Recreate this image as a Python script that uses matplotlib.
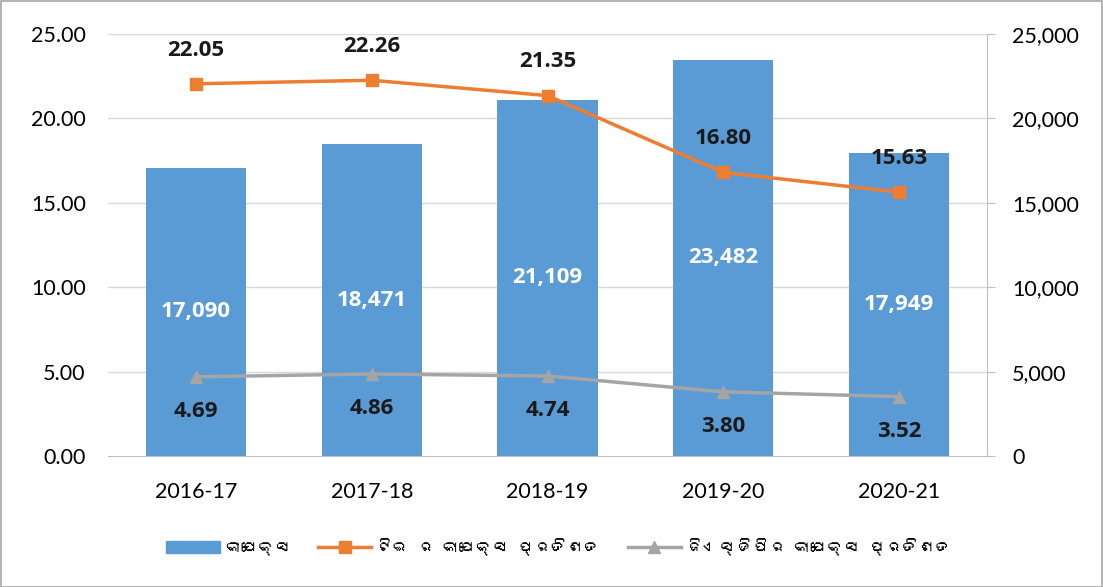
import matplotlib
matplotlib.use("Agg")
import matplotlib.pyplot as plt
from matplotlib import font_manager as fm
from matplotlib.patches import Rectangle, Patch
from matplotlib.lines import Line2D

years = ["2016-17", "2017-18", "2018-19", "2019-20", "2020-21"]
capex = [17090, 18471, 21109, 23482, 17949]
te_pct = [22.05, 22.26, 21.35, 16.80, 15.63]
gsdp_pct = [4.69, 4.86, 4.74, 3.80, 3.52]
legend_labels = ["କାପେକ୍ସ", "ଟିଇ ର କାପେକ୍ସ ପ୍ରତିଶତ", "ଜିଏସ୍ଡିପିର କାପେକ୍ସ ପ୍ରତିଶତ"]

# find a font with Odia glyphs if any
odia_fams = []
try:
    from matplotlib.ft2font import FT2Font
    seen = set()
    for f in fm.fontManager.ttflist:
        if f.name in seen:
            continue
        try:
            ft = FT2Font(f.fname)
            if 0x0B15 in ft.get_charmap():
                odia_fams.append(f.name)
                seen.add(f.name)
        except Exception:
            pass
except Exception:
    pass

base = "Lato"
plt.rcParams['font.family'] = [base, 'DejaVu Sans']
leg_family = odia_fams[:1] + [base, 'DejaVu Sans']
lab_family = ["Open Sans", "DejaVu Sans"]

W, H = 1103, 587
fig = plt.figure(figsize=(W/100, H/100), dpi=100)
fig.patches.append(Rectangle((0.5/W, 0.5/H), 1-1.5/W, 1-1.5/H, transform=fig.transFigure,
                             fill=False, edgecolor="#a6a6a6", lw=1.2))

ax = fig.add_axes([108/W, 1-456/H, (987-108)/W, (456-34)/H])
ax2 = ax.twinx()
ax.set_zorder(ax2.get_zorder() + 1)
ax.patch.set_visible(False)

x = list(range(len(years)))
bar_c = "#5b9bd5"
ax2.bar(x, capex, width=0.57, color=bar_c, zorder=2)
ax2.set_ylim(0, 25000)
ax2.set_yticks(range(0, 25001, 5000))
ax2.set_yticklabels([f"{v:,}" for v in range(0, 25001, 5000)])

ax.set_ylim(0, 25)
ax.set_xlim(-0.5, 4.5)
ax.set_yticks([0, 5, 10, 15, 20, 25])
ax.set_yticklabels([f"{v:.2f}" for v in [0, 5, 10, 15, 20, 25]])
ax.set_xticks(x)
ax.set_xticklabels(years)

for v in range(5000, 25001, 5000):
    ax2.axhline(v, color="#d9d9d9", lw=1, zorder=0)

ax.plot(x, te_pct, color="#ed7d31", lw=2.5, marker="s", ms=9, zorder=3)
ax.plot(x, gsdp_pct, color="#a5a5a5", lw=2.5, marker="^", ms=9, zorder=3)

for i in x:
    ax2.text(i, capex[i]/2, f"{capex[i]:,}", ha="center", va="center",
             color="white", fontsize=16, fontweight="bold", family=lab_family, zorder=4)
    ax.text(i, te_pct[i] + 2.0, f"{te_pct[i]:.2f}", ha="center",
            va="center", color="#1a1a1a", fontsize=16, fontweight="bold", family=lab_family, zorder=5)
    ax.text(i, gsdp_pct[i] - 2.07, f"{gsdp_pct[i]:.2f}", ha="center", va="center",
            color="#1a1a1a", fontsize=16, fontweight="bold", family=lab_family, zorder=5)

for a in (ax, ax2):
    for s in a.spines.values():
        s.set_visible(False)
ax.spines["bottom"].set_visible(True)
ax.spines["bottom"].set_color("#bfbfbf")
ax2.spines["right"].set_visible(True)
ax2.spines["right"].set_color("#bfbfbf")
ax.tick_params(axis="y", length=0, labelsize=15.5, pad=16, colors="#000000")
ax.tick_params(axis="x", length=0, labelsize=15.5, pad=19)
ax2.tick_params(axis="y", length=6, color="#bfbfbf", labelsize=15.5, pad=12)

handles = [Patch(color=bar_c),
           Line2D([], [], color="#ed7d31", lw=2.5, marker="s", ms=9),
           Line2D([], [], color="#a5a5a5", lw=2.5, marker="^", ms=9)]
leg = fig.legend(handles, legend_labels, loc="center", bbox_to_anchor=(0.507, 1-547/H),
                 ncol=3, frameon=False, prop={"family": leg_family, "size": 12},
                 handlelength=3.2, columnspacing=1.6, handletextpad=0.3)

fig.savefig("out.png", dpi=100)
